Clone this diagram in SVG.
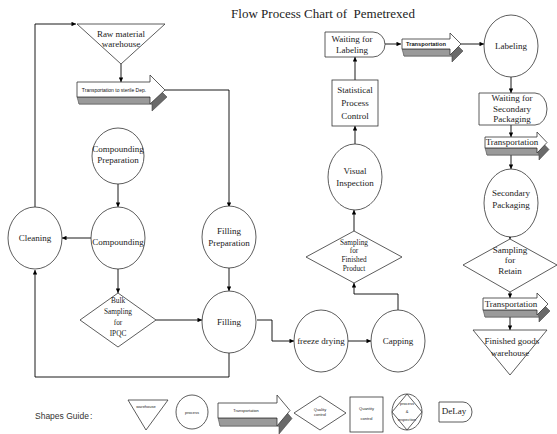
<svg xmlns="http://www.w3.org/2000/svg" width="557" height="434" viewBox="0 0 557 434">
<defs>
<marker id="ah" viewBox="0 0 6 6" refX="6" refY="3" markerWidth="5" markerHeight="4.5" orient="auto" markerUnits="userSpaceOnUse"><path d="M0,0 L6,3 L0,6 z" fill="#000"/></marker>
<style>
.s{fill:#fff;stroke:#333;stroke-width:0.8}
.c{fill:none;stroke:#000;stroke-width:0.9;marker-end:url(#ah)}
.t{font-family:"Liberation Serif","Times New Roman",serif;font-size:9px;fill:#222;text-anchor:middle}
.sm{font-size:7.3px}
.tiny{font-family:"Liberation Sans",Arial,sans-serif;font-size:4px;fill:#222;text-anchor:middle}
.ts{font-family:"Liberation Sans",Arial,sans-serif;fill:#111;text-anchor:middle}
.dk{fill:#6a6a6a;stroke:#444;stroke-width:0.6}
.gr{fill:#9a9a9a;stroke:#555;stroke-width:0.6}
</style>
</defs>
<rect width="557" height="434" fill="#fff"/>
<text x="323" y="18" xml:space="preserve" style="font-family:'Liberation Serif','Times New Roman',serif;font-size:13px;fill:#222;text-anchor:middle">Flow Process Chart of  Pemetrexed</text>

<g id="connectors">
<path class="c" d="M35,207 V24 H76"/>
<path class="c" d="M121,64 V82"/>
<path class="c" d="M165,90 H229 V207"/>
<path class="c" d="M118,184 V207"/>
<path class="c" d="M91,238 H62"/>
<path class="c" d="M118,269 V293"/>
<path class="c" d="M156,320 H202"/>
<path class="c" d="M229,268 V291"/>
<path class="c" d="M229,353 V377 H35 V270"/>
<path class="c" d="M257,320 H272 V341 H294"/>
<path class="c" d="M348,341 H371"/>
<path class="c" d="M398,310 V294 H354 V283"/>
<path class="c" d="M354,231 V210"/>
<path class="c" d="M355,144 V126"/>
<path class="c" d="M355,80 V57"/>
<path class="c" d="M385,44 H401"/>
<path class="c" d="M461,44 H484"/>
<path class="c" d="M511,77 V93"/>
<path class="c" d="M511,125 V137"/>
<path class="c" d="M511,155 V169"/>
<path class="c" d="M510,234 V239"/>
<path class="c" d="M510,292 V298"/>
<path class="c" d="M510,317 V330"/>
</g>

<g id="raw-material-warehouse">
<polygon class="s" points="77,24 165,24 121,64"/>
<text class="t" x="121" y="37" font-size="8">Raw material</text>
<text class="t" x="121" y="47" font-size="8">warehouse</text>
</g>

<g id="transport-sterile">
<polygon class="dk" points="79,89 152,89 152,82 167,97 152,111 152,104 79,104"/>
<polygon class="gr" points="77,97 150,97 152,104 79,104"/>
<polygon class="s" points="77,82 150,82 150,75 165,90 150,104 150,97 77,97"/>
<text class="ts" x="114" y="92" font-size="5">Transportation to sterile Dep.</text>
</g>

<g id="compounding-preparation">
<ellipse class="s" cx="118" cy="156" rx="26" ry="28"/>
<text class="t" x="118" y="152" font-size="8.5">Compounding</text>
<text class="t" x="118" y="163" font-size="8.5">Preparation</text>
</g>

<g id="compounding">
<ellipse class="s" cx="118" cy="238" rx="27" ry="31"/>
<text class="t" x="118" y="245" font-size="8.5">Compounding</text>
</g>

<g id="cleaning">
<ellipse class="s" cx="35" cy="238" rx="27" ry="31"/>
<text class="t" x="35" y="241" font-size="8.5">Cleaning</text>
</g>

<g id="bulk-sampling">
<polygon class="s" points="118,293 156,320 118,347 80,320"/>
<text class="t sm" x="118" y="303">Bulk</text>
<text class="t sm" x="118" y="314">Sampling</text>
<text class="t sm" x="118" y="325">for</text>
<text class="t sm" x="118" y="336">IPQC</text>
</g>

<g id="filling-preparation">
<ellipse class="s" cx="229" cy="237" rx="27" ry="31"/>
<text class="t" x="229" y="234">Filling</text>
<text class="t" x="229" y="246">Preparation</text>
</g>

<g id="filling">
<ellipse class="s" cx="229" cy="322" rx="27" ry="31"/>
<text class="t" x="229" y="325">Filling</text>
</g>

<g id="freeze-drying">
<ellipse class="s" cx="321" cy="341" rx="27" ry="31"/>
<text class="t" x="321" y="344">freeze drying</text>
</g>

<g id="capping">
<ellipse class="s" cx="398" cy="341" rx="27" ry="31"/>
<text class="t" x="398" y="344">Capping</text>
</g>

<g id="sampling-finished">
<polygon class="s" points="354,231 402,257 354,283 306,257"/>
<text class="t sm" x="354" y="245">Sampling</text>
<text class="t sm" x="354" y="253">for</text>
<text class="t sm" x="354" y="262">Finished</text>
<text class="t sm" x="354" y="271">Product</text>
</g>

<g id="visual-inspection">
<ellipse class="s" cx="355" cy="177" rx="27" ry="33"/>
<text class="t" x="355" y="174">Visual</text>
<text class="t" x="355" y="186">Inspection</text>
</g>

<g id="spc">
<rect class="s" x="332" y="80" width="46" height="46"/>
<text class="t" x="355" y="93">Statistical</text>
<text class="t" x="355" y="106">Process</text>
<text class="t" x="355" y="119">Control</text>
</g>

<g id="waiting-labeling">
<path class="s" d="M325,32 H373 A12,12.5 0 0 1 373,57 H325 Z"/>
<text class="t" x="352" y="42" font-size="8.5">Waiting for</text>
<text class="t" x="352" y="53" font-size="8.5">Labeling</text>
</g>

<g id="transport-top">
<polygon class="dk" points="404,46 452,46 452,40 463,51 452,62 452,56 404,56"/>
<polygon class="gr" points="402,49 450,49 452,56 404,56"/>
<polygon class="s" points="402,39 450,39 450,33 461,44 450,55 450,49 402,49"/>
<text class="ts" x="426" y="46" font-size="5.7" font-weight="bold">Transportation</text>
</g>

<g id="labeling">
<ellipse class="s" cx="511" cy="46" rx="27" ry="31"/>
<text class="t" x="511" y="49">Labeling</text>
</g>

<g id="waiting-secondary">
<path class="s" d="M479,93 H535 A12,16 0 0 1 535,125 H479 Z"/>
<text class="t" x="512" y="101" font-size="8">Waiting for</text>
<text class="t" x="512" y="112" font-size="8">Secondary</text>
<text class="t" x="512" y="122" font-size="8">Packaging</text>
</g>

<g id="transport-2">
<polygon class="dk" points="487,144 539,144 539,139 549,149.5 539,160 539,155 487,155"/>
<polygon class="gr" points="485,148 537,148 539,155 487,155"/>
<polygon class="s" points="485,137 537,137 537,132 547,142.5 537,153 537,148 485,148"/>
<text class="t" x="512" y="145" font-size="7">Transportation</text>
</g>

<g id="secondary-packaging">
<ellipse class="s" cx="511" cy="203" rx="27" ry="34"/>
<text class="t" x="511" y="196">Secondary</text>
<text class="t" x="511" y="208">Packaging</text>
</g>

<g id="sampling-retain">
<polygon class="s" points="510,239 557,265 510,292 463,265"/>
<text class="t" x="510" y="253" font-size="8.5">Sampling</text>
<text class="t" x="510" y="263" font-size="8.5">for</text>
<text class="t" x="510" y="274" font-size="8.5">Retain</text>
</g>

<g id="transport-3">
<polygon class="dk" points="485,305 539,305 539,300 550,311 539,322 539,317 485,317"/>
<polygon class="gr" points="483,310 537,310 539,317 485,317"/>
<polygon class="s" points="483,298 537,298 537,293 548,304 537,315 537,310 483,310"/>
<text class="t" x="511" y="307" font-size="8">Transportation</text>
</g>

<g id="finished-goods-warehouse">
<polygon class="s" points="473,330 547,330 510,375"/>
<text class="t" x="512" y="344" font-size="8.5">Finished goods</text>
<text class="t" x="510" y="356" font-size="8.5">warehouse</text>
</g>

<g id="shapes-guide">
<text x="35" y="419" style="font-family:'Liberation Sans',Arial,sans-serif;font-size:8.5px;fill:#333">Shapes Guide</text>
<text x="90" y="419" style="font-family:'Liberation Sans',Arial,sans-serif;font-size:8.5px;fill:#333">:</text>
<polygon class="s" points="128,400 168,400 146,430"/>
<text class="tiny" x="146" y="408">warehouse</text>
<ellipse class="s" cx="192" cy="412" rx="16" ry="17"/>
<text class="tiny" x="192" y="414">process</text>
<polygon class="dk" points="220,411 279,411 279,403 292,418.5 279,434 279,426 220,426"/>
<polygon class="gr" points="218,418 277,418 279,426 220,426"/>
<polygon class="s" points="218,403 277,403 277,395 290,410.5 277,426 277,418 218,418"/>
<text class="tiny" x="246" y="412">Transportation</text>
<polygon class="s" points="320,396 346,413 320,430 294,413"/>
<text class="tiny" x="320" y="411" font-size="3.5">Quality</text>
<text class="tiny" x="320" y="416" font-size="3.5">control</text>
<rect class="s" x="350" y="397" width="33" height="35"/>
<text class="tiny" x="366.5" y="410" font-size="3.5">Quantity</text>
<text class="tiny" x="366.5" y="420" font-size="3.5">control</text>
<ellipse class="s" cx="407" cy="412" rx="15" ry="18"/>
<polygon class="s" points="407,394 422,412 407,430 392,412"/>
<text class="tiny" x="407" y="405" font-size="3.5">process</text>
<text class="tiny" x="407" y="413" font-size="3.5">&amp;</text>
<text class="tiny" x="407" y="421" font-size="3.5">inspection</text>
<path class="s" d="M439,402 H463 A9,10 0 0 1 463,422 H439 Z"/>
<text class="t" x="454" y="414" font-size="5.5">DeLay</text>
</g>
</svg>
